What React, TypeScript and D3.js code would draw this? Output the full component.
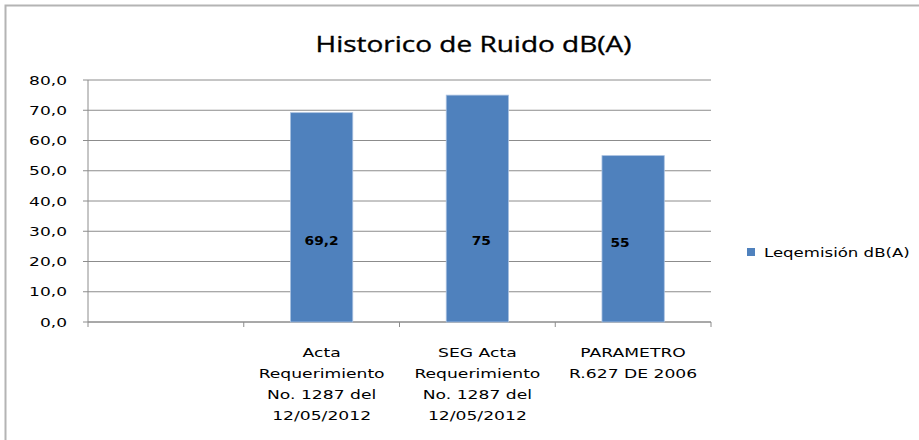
import React from "react";
import * as d3 from "d3";

// chart values
const categories = ["", "acta", "seg", "param"];
const categoryLines = [
  [],
  ["Acta", "Requerimiento", "No. 1287 del", "12/05/2012"],
  ["SEG Acta", "Requerimiento", "No. 1287 del", "12/05/2012"],
  ["PARAMETRO", "R.627 DE 2006"],
];
const values: (number | null)[] = [null, 69.2, 75, 55];
// the data labels were dragged by hand in the original, kept as value-space anchors
const labelAt = [0, 26.8, 26.8, 26.1];
const labelShift = [0, 0, 4, -13];
const yTicks = [0, 10, 20, 30, 40, 50, 60, 70, 80];
const seriesName = "Leqemisión dB(A)";
const title = "Historico de Ruido dB(A)";

const W = 919;
const H = 440;
const margin = { top: 80, right: 208, bottom: 118, left: 88 };
const BAR = "#4F81BD";
const GRID = "#8C8C8C";
const SX = 1.42; // the source picture is stretched sideways

const locale = d3.formatLocale({ decimal: ",", thousands: ".", grouping: [3], currency: ["", ""] });
const tickFmt = locale.format(".1f");
const valFmt = locale.format("~r");

export default function App() {
  const x = d3.scaleBand<string>().domain(categories).range([margin.left, W - margin.right]);
  const y = d3.scaleLinear().domain([0, 80]).range([H - margin.bottom, margin.top]);
  const barW = x.bandwidth() / 2.5;
  const y0 = y(0);

  const font = "'DejaVu Sans', Verdana, sans-serif";

  return (
    <svg width={W} height={H} style={{ position: "absolute", left: 0, top: 0, background: "#fff" }}>
      <rect x={5.5} y={5.5} width={W + 20} height={H + 20} fill="#fff" stroke="#B4B4B4" strokeWidth={2} />

      <text
        x={W / 2 + 14}
        y={52}
        textAnchor="middle"
        fontFamily="'Open Sans', sans-serif"
        fontSize={22}
        textLength={316}
        lengthAdjust="spacingAndGlyphs"
        fill="#000"
        stroke="#000"
        strokeWidth={0.35}
      >
        {title}
      </text>

      {/* grid + y ticks */}
      {yTicks.map((t) => (
        <g key={t}>
          <line x1={margin.left - 5} x2={W - margin.right} y1={y(t)} y2={y(t)} stroke={GRID} strokeWidth={1} />
          <text
            transform={`translate(${margin.left - 21},${y(t) + 4.5}) scale(${SX},1)`}
            textAnchor="end"
            fontFamily={font}
            fontSize={12}
            fill="#000"
          >
            {tickFmt(t)}
          </text>
        </g>
      ))}

      <line x1={margin.left} x2={margin.left} y1={y(80)} y2={y0} stroke={GRID} strokeWidth={1} />
      <line x1={margin.left} x2={W - margin.right} y1={y0} y2={y0} stroke={GRID} strokeWidth={1} />
      {categories.map((c) => (
        <line key={"t" + c} x1={x(c)!} x2={x(c)!} y1={y0} y2={y0 + 5} stroke={GRID} />
      ))}
      <line x1={W - margin.right} x2={W - margin.right} y1={y0} y2={y0 + 5} stroke={GRID} />

      {/* bars */}
      {categories.map((c, i) =>
        values[i] == null ? null : (
          <rect
            key={"b" + c}
            x={x(c)! + (x.bandwidth() - barW) / 2}
            y={y(values[i]!)}
            width={barW}
            height={y0 - y(values[i]!)}
            fill={BAR}
            stroke="#A9C1E0"
            strokeWidth={0.8}
          />
        )
      )}

      {/* data labels */}
      {categories.map((c, i) =>
        values[i] == null ? null : (
          <text
            key={"l" + c}
            transform={`translate(${x(c)! + x.bandwidth() / 2 + labelShift[i]},${y(labelAt[i]) + 4}) scale(1.2,1)`}
            textAnchor="middle"
            fontFamily={font}
            fontSize={11.5}
            fontWeight="bold"
            fill="#000"
          >
            {valFmt(values[i]!)}
          </text>
        )
      )}

      {/* category labels */}
      {categories.map((c, i) => (
        <g key={"c" + c}>
          {categoryLines[i].map((ln, j) => (
            <text
              key={j}
              transform={`translate(${x(c)! + x.bandwidth() / 2},${y0 + 35 + j * 21}) scale(1.32,1)`}
              textAnchor="middle"
              fontFamily={font}
              fontSize={13}
              fill="#000"
            >
              {ln}
            </text>
          ))}
        </g>
      ))}

      {/* legend */}
      <rect x={747} y={248} width={8} height={8} fill={BAR} />
      <text
        transform={`translate(764,257) scale(1.38,1)`}
        fontFamily={font}
        fontSize={12}
        fill="#000"
      >
        {seriesName}
      </text>
    </svg>
  );
}
